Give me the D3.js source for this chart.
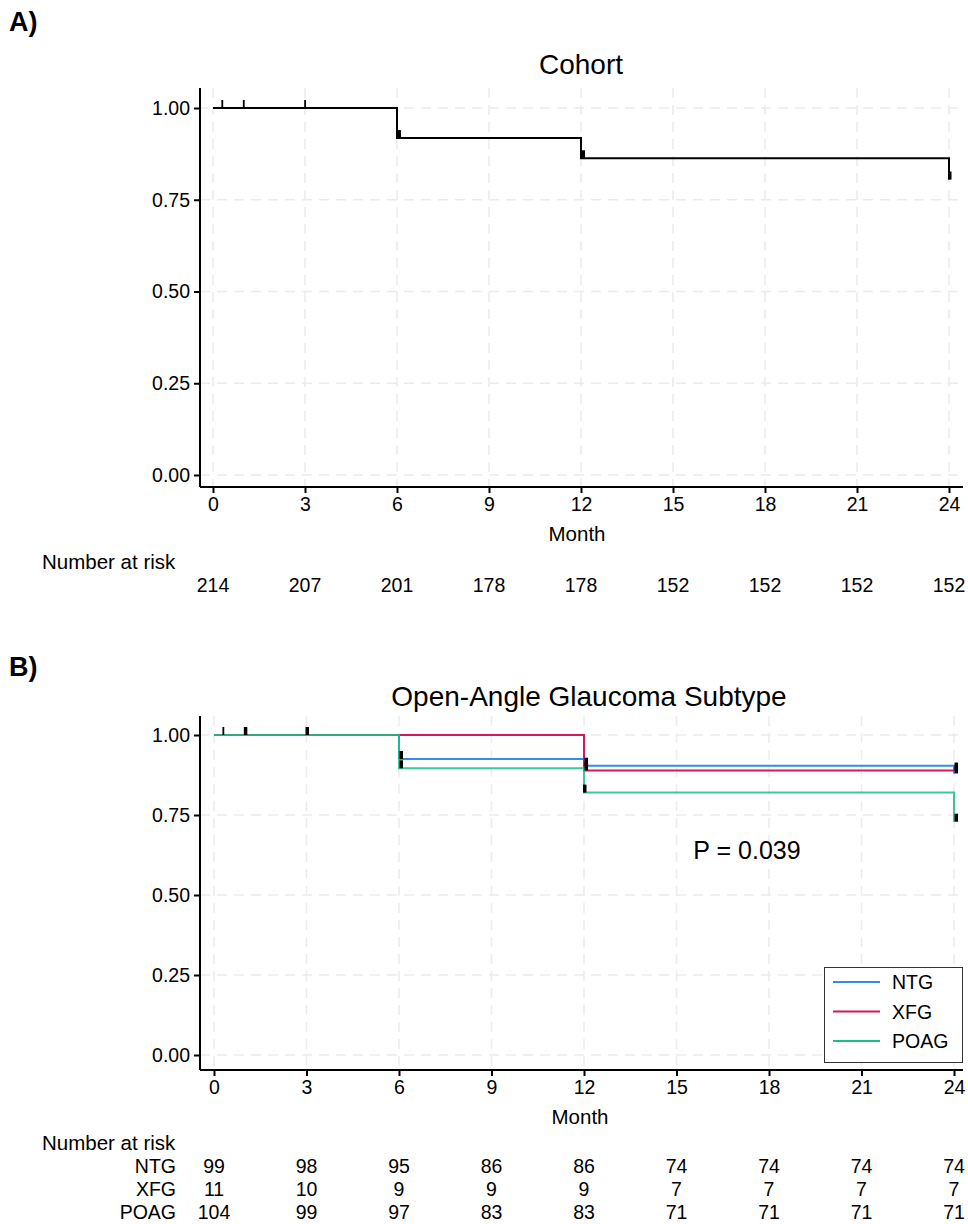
<!DOCTYPE html>
<html><head><meta charset="utf-8">
<script src="https://cdn.jsdelivr.net/npm/d3@7"></script>
<style>body{margin:0;background:#fff}svg{display:block;font-family:"Liberation Sans",Arial,sans-serif}</style>
</head><body><div id="c"></div>
<script>
const monthTicks = [0,3,6,9,12,15,18,21,24];
const survTicks = [0,0.25,0.5,0.75,1];

// Panel A: cohort
const cohortSteps = [[0,1],[6,0.918],[12,0.863],[24,0.805]];
const cohortCensor = [[0.3,1,1],[1,1,1],[3,1,1],[6.05,0.918,3],[12.05,0.863,3],[24,0.805,3]];
const cohortRisk = [214,207,201,178,178,152,152,152,152];

// Panel B: subtypes
const groups = ["NTG","XFG","POAG"];
const groupColors = ["#2F8CF0","#D6175F","#19BF85"];
const ntgSteps = [[0,1],[6,0.925],[12,0.904],[24,0.88]];
const xfgSteps = [[0,1],[12,0.889],[24,0.889]];
const poagSteps = [[0,1],[6,0.896],[12,0.82],[24,0.729]];
const censorB = [[0.3,1,1],[1,1,3],[3,1,3],[6.05,0.925,2],[6.05,0.896,2],[12.05,0.904,3],[12.05,0.889,2],[12,0.82,2],[24.05,0.88,3],[24.05,0.889,2],[24.05,0.729,3]];
const ntgRisk = [99,98,95,86,86,74,74,74,74];
const xfgRisk = [11,10,9,9,9,7,7,7,7];
const poagRisk = [104,99,97,83,83,71,71,71,71];
const pText = "P = 0.039";

const W = 968, H = 1224;
const svg = d3.select("#c").append("svg").attr("width",W).attr("height",H);

function panel(o){
  const g = svg.append("g");
  const x = d3.scaleLinear().domain([0,24]).range(o.xr);
  const y = d3.scaleLinear().domain([0,1]).range(o.yr);
  const left = 200, right = 963;
  // grid
  g.selectAll(".gx").data(monthTicks).enter().append("line")
    .attr("x1",d=>x(d)).attr("x2",d=>x(d)).attr("y1",o.top).attr("y2",o.bottom)
    .attr("stroke","#ededed").attr("stroke-width",1.6).attr("stroke-dasharray","10,7");
  g.selectAll(".gy").data(survTicks).enter().append("line")
    .attr("x1",left).attr("x2",right).attr("y1",d=>y(d)).attr("y2",d=>y(d))
    .attr("stroke","#ebebeb").attr("stroke-width",1.6).attr("stroke-dasharray","10,7");
  // axes
  const ya = g.append("g").attr("transform",`translate(${left},0)`)
    .call(d3.axisLeft(y).tickValues(survTicks).tickFormat(d3.format(".2f")).tickSize(6).tickSizeOuter(0));
  ya.select(".domain").attr("d",`M0,${o.top}V${o.bottom}`).attr("stroke-width",2);
  ya.selectAll(".tick line").attr("stroke-width",2);
  ya.selectAll(".tick text").attr("font-size",19.5).attr("fill","#000").attr("x",-10)
    .attr("font-family","Liberation Sans, Arial, sans-serif");
  const xa = g.append("g").attr("transform",`translate(0,${o.bottom})`)
    .call(d3.axisBottom(x).tickValues(monthTicks).tickSize(6).tickSizeOuter(0));
  xa.select(".domain").attr("d",`M${left},0H${right}`).attr("stroke-width",2);
  xa.selectAll(".tick line").attr("stroke-width",2);
  xa.selectAll(".tick text").attr("font-size",19.5).attr("fill","#000").attr("y",10)
    .attr("font-family","Liberation Sans, Arial, sans-serif");
  g.append("text").attr("x",o.monthX).attr("y",o.bottom+54).attr("text-anchor","middle")
    .attr("font-size",20.5).text("Month");
  // title + label
  g.append("text").attr("x",o.titleX).attr("y",o.titleY).attr("text-anchor","middle").attr("font-size",28).text(o.title);
  g.append("text").attr("x",9).attr("y",o.labelY).attr("font-size",27).attr("font-weight","bold").text(o.label);
  // curves
  const line = d3.line().x(d=>x(d[0])).y(d=>y(d[1])).curve(d3.curveStepAfter);
  o.series.forEach(s=>{
    g.append("path").datum(s.steps).attr("d",line).attr("fill","none")
      .attr("stroke",s.color).attr("stroke-width",2).attr("stroke-opacity",s.op||1);
  });
  g.selectAll(".cen").data(o.censor).enter().append("rect")
    .attr("x",d=>x(d[0])-(d[2]>1?1:0.8)).attr("width",d=>d[2]>1?3.5:1.8)
    .attr("y",d=>y(d[1])-8).attr("height",8).attr("fill","#000");
  return {x,y,g};
}

// Panel A
const A = panel({xr:[213,949], yr:[475,108], top:88, bottom:487, title:"Cohort", titleX:581, titleY:74, label:"A)", labelY:31, monthX:577,
  series:[{steps:cohortSteps,color:"#000"}], censor:cohortCensor});
svg.append("text").attr("x",42).attr("y",569).attr("font-size",20.5).text("Number at risk");
svg.selectAll(".ra").data(cohortRisk).enter().append("text")
  .attr("x",(d,i)=>A.x(monthTicks[i])).attr("y",592).attr("text-anchor","middle").attr("font-size",19.5).text(d=>d);

// Panel B
const B = panel({xr:[214,954], yr:[1055,735], top:716, bottom:1070, title:"Open-Angle Glaucoma Subtype", titleX:589, titleY:706, label:"B)", labelY:676, monthX:580,
  series:[{steps:ntgSteps,color:groupColors[0]},{steps:xfgSteps,color:groupColors[1]},{steps:poagSteps,color:groupColors[2],op:0.85}], censor:censorB});
svg.append("text").attr("x",747).attr("y",859).attr("text-anchor","middle").attr("font-size",25).text(pText);
// legend
const lg = svg.append("g");
lg.append("rect").attr("x",824.5).attr("y",967.5).attr("width",138).attr("height",95).attr("fill","#fff").attr("stroke","#333").attr("stroke-width",1);
groups.forEach((gname,i)=>{
  const yy = 982 + i*29.5;
  lg.append("line").attr("x1",833).attr("x2",880).attr("y1",yy).attr("y2",yy).attr("stroke",groupColors[i]).attr("stroke-width",2);
  lg.append("text").attr("x",892).attr("y",yy+7).attr("font-size",19.5).text(gname);
});
svg.append("text").attr("x",42).attr("y",1150).attr("font-size",20.5).text("Number at risk");
const riskRows = [ntgRisk,xfgRisk,poagRisk];
riskRows.forEach((row,r)=>{
  const yy = 1173 + r*23;
  svg.append("text").attr("x",176).attr("y",yy).attr("text-anchor","end").attr("font-size",19.5).text(groups[r]);
  svg.selectAll(".rb"+r).data(row).enter().append("text")
    .attr("x",(d,i)=>B.x(monthTicks[i])).attr("y",yy).attr("text-anchor","middle").attr("font-size",19.5).text(d=>d);
});
</script></body></html>
